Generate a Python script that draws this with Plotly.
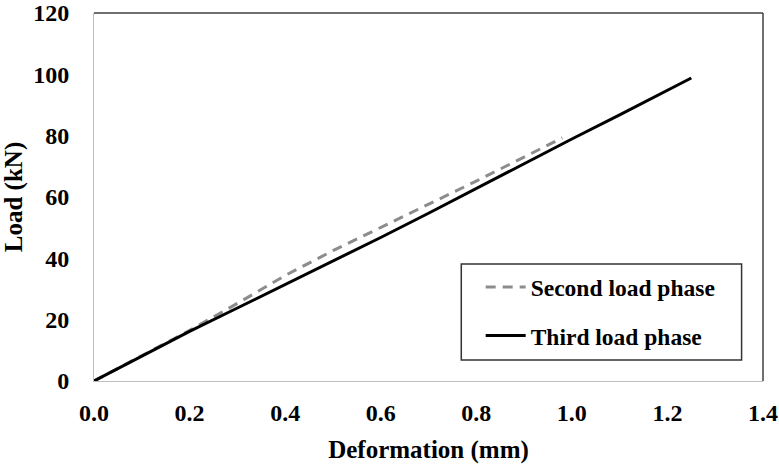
import plotly.graph_objects as go

# ---- data ----
deformation_second = [0, 0.1, 0.2, 0.3, 0.4, 0.5, 0.6, 0.7, 0.8, 0.9, 0.98]
load_second = [0, 8.2, 16.5, 25.3, 34.4, 42.5, 50.1, 57.5, 65.2, 73.0, 79.3]

deformation_third = [0, 0.1, 0.2, 0.3, 0.4, 0.5, 0.6, 0.7, 0.8, 0.9, 1.0, 1.1, 1.2, 1.25]
load_third = [0, 8.2, 16.2, 23.8, 31.4, 39.0, 46.8, 54.7, 62.8, 70.9, 78.9, 86.8, 94.8, 98.8]

x_tick_values = [0.0, 0.2, 0.4, 0.6, 0.8, 1.0, 1.2, 1.4]
x_tick_labels = ["0.0", "0.2", "0.4", "0.6", "0.8", "1.0", "1.2", "1.4"]
y_tick_values = [0, 20, 40, 60, 80, 100, 120]
y_tick_labels = ["0", "20", "40", "60", "80", "100", "120"]

series_names = ["Second load phase", "Third load phase"]

FONT = "Times New Roman, Liberation Serif, serif"

fig = go.Figure()
fig.add_trace(go.Scatter(
    x=deformation_second, y=load_second, mode="lines", name=series_names[0],
    legendgroup="a",
    line=dict(color="#8c8c8c", width=3, dash="10px,7px"),
))
fig.add_trace(go.Scatter(
    x=deformation_third, y=load_third, mode="lines", name=series_names[1],
    legendgroup="b",
    line=dict(color="#000000", width=3),
))

fig.update_layout(
    width=779, height=464,
    margin=dict(l=94, r=16, t=13, b=83),
    paper_bgcolor="white", plot_bgcolor="white",
    font=dict(family=FONT, color="black"),
    showlegend=True,
    legend=dict(
        x=0.578, y=0.3145, xanchor="left", yanchor="top",
        bgcolor="rgba(0,0,0,0)", borderwidth=0,
        font=dict(family=FONT, size=23.5, weight="bold", color="black"),
        traceorder="grouped", tracegroupgap=15, itemwidth=40,
    ),
    shapes=[
        # legend box
        dict(type="rect", xref="paper", yref="paper",
             x0=0.549, x1=0.968, y0=0.057, y1=0.318,
             line=dict(color="#333333", width=1.5), fillcolor="rgba(0,0,0,0)"),
        # top and right frame of the plot area (darker than left/bottom)
        dict(type="line", xref="paper", yref="paper", x0=0, x1=1, y0=1, y1=1,
             line=dict(color="#404040", width=1.5)),
        dict(type="line", xref="paper", yref="paper", x0=1, x1=1, y0=0, y1=1,
             line=dict(color="#404040", width=1.5)),
    ],
)

fig.update_xaxes(
    range=[0, 1.4], tickmode="array", tickvals=x_tick_values, ticktext=x_tick_labels,
    showgrid=False, zeroline=False, showline=True, linecolor="#bfbfbf", linewidth=1,
    ticks="", ticklabelstandoff=10, automargin=False,
    tickfont=dict(family=FONT, size=24, weight="bold", color="black"),
    title=dict(text="Deformation (mm)", standoff=16,
               font=dict(family=FONT, size=25, weight="bold", color="black")),
)
fig.update_yaxes(
    range=[0, 120], tickmode="array", tickvals=y_tick_values, ticktext=y_tick_labels,
    showgrid=False, zeroline=False, showline=True, linecolor="#bfbfbf", linewidth=1,
    ticks="", ticklabelstandoff=19, automargin=False,
    tickfont=dict(family=FONT, size=24, weight="bold", color="black"),
    title=dict(text="Load (kN)", standoff=6,
               font=dict(family=FONT, size=25, weight="bold", color="black")),
)

fig.write_html("out.html", config={"displayModeBar": False},
               post_script="document.body.style.margin='0';")
